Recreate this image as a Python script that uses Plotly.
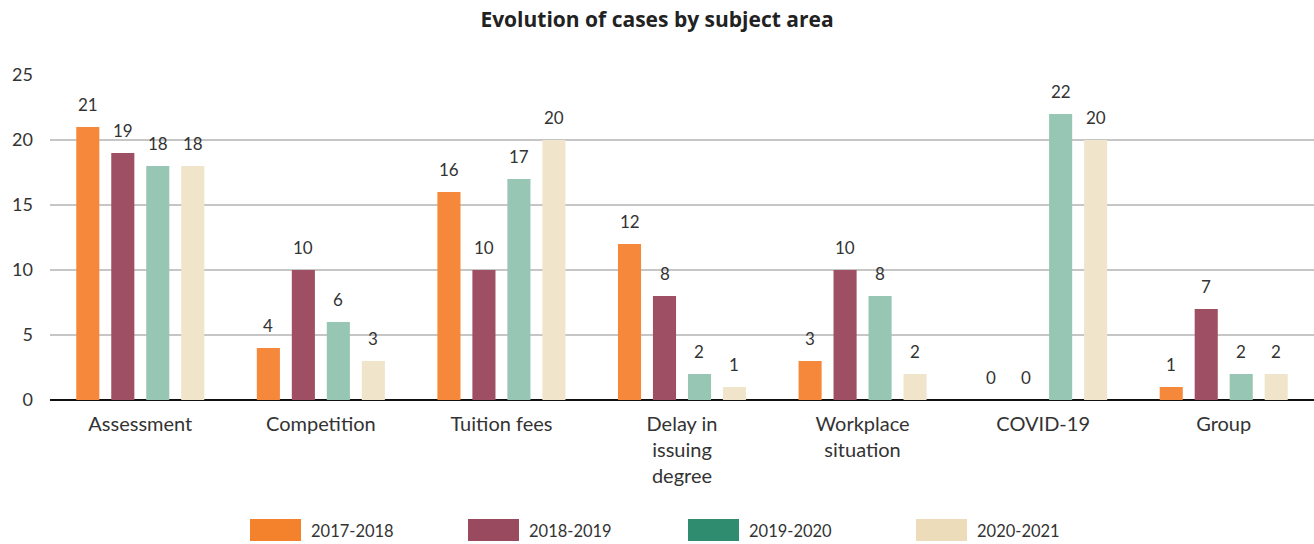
import plotly.graph_objects as go

categories = ["Assessment", "Competition", "Tuition fees", "Delay in<br>issuing<br>degree",
              "Workplace<br>situation", "COVID-19", "Group"]
years = ["2017-2018", "2018-2019", "2019-2020", "2020-2021"]
cases_2017 = [21, 4, 16, 12, 3, 0, 1]
cases_2018 = [19, 10, 10, 8, 10, 0, 7]
cases_2019 = [18, 6, 17, 2, 8, 22, 2]
cases_2020 = [18, 3, 20, 1, 2, 20, 2]

bar_colors = ["#F5883A", "#9E4F63", "#98C6B5", "#F0E4CB"]
legend_colors = ["#F4812B", "#9A4A5E", "#2F8C6E", "#ECDCBA"]

W, H = 1314, 544
M_L, M_R, M_T, M_B = 50, 0, 75, 144
BARGAP = 0.225


def px_to_paper(x, y):
    # pixel position in the page -> paper coords
    return (x - M_L) / (W - M_L - M_R), (H - M_B - y) / (H - M_T - M_B)


fig = go.Figure()

series = [cases_2017, cases_2018, cases_2019, cases_2020]
for name, vals, col in zip(years, series, bar_colors):
    fig.add_trace(go.Bar(
        x=categories,
        y=vals,
        name=name,
        marker=dict(color=col, line_width=0),
        showlegend=False,
        hoverinfo="x+y+name",
    ))

# value labels sit well above the bars, one slot per series
slot_px = (W - M_L - M_R) / len(categories) * (1 - BARGAP) / len(series)
for j, vals in enumerate(series):
    for cat, v in zip(categories, vals):
        fig.add_annotation(x=cat, y=v, text=str(v), showarrow=False,
                           xshift=(j - 1.5) * slot_px, yshift=23, yanchor="middle",
                           font=dict(size=17, color="#333333"))

# Custom legend: big swatches like in the original
legend_x = [250, 468, 688, 916]
for name, col, lx in zip(years, legend_colors, legend_x):
    x0, y0 = px_to_paper(lx, 541)
    x1, y1 = px_to_paper(lx + 51, 519)
    fig.add_shape(type="rect", xref="paper", yref="paper", x0=x0, x1=x1, y0=y0, y1=y1,
                  fillcolor=col, line_width=0)
    tx, ty = px_to_paper(lx + 59, 531)
    fig.add_annotation(xref="paper", yref="paper", x=tx, y=ty, text=name, showarrow=False,
                       xanchor="left", yanchor="middle", font=dict(size=16.5, color="#333333"))

fig.update_layout(
    width=W, height=H,
    margin=dict(l=M_L, r=M_R, t=M_T, b=M_B),
    title=dict(text="<b>Evolution of cases by subject area</b>", x=0.5, xanchor="center",
               y=0.963, yanchor="middle",
               font=dict(size=21, color="#222222", family="Open Sans, sans-serif")),
    font=dict(family="Lato, Open Sans, sans-serif", color="#333333"),
    plot_bgcolor="white",
    paper_bgcolor="white",
    barmode="group",
    bargap=BARGAP,
    bargroupgap=0.34,
    xaxis=dict(tickfont=dict(size=20), ticklabelstandoff=10, showgrid=False, showline=False),
    yaxis=dict(range=[0, 25], dtick=5, tickfont=dict(size=18), ticklabelstandoff=16,
               gridcolor="#C6C6C6", gridwidth=1.5, zeroline=True, zerolinecolor="#111111",
               zerolinewidth=2),
)

fig.write_html("out.html", config={"displayModeBar": False},
               post_script="document.body.style.margin='0px';")
